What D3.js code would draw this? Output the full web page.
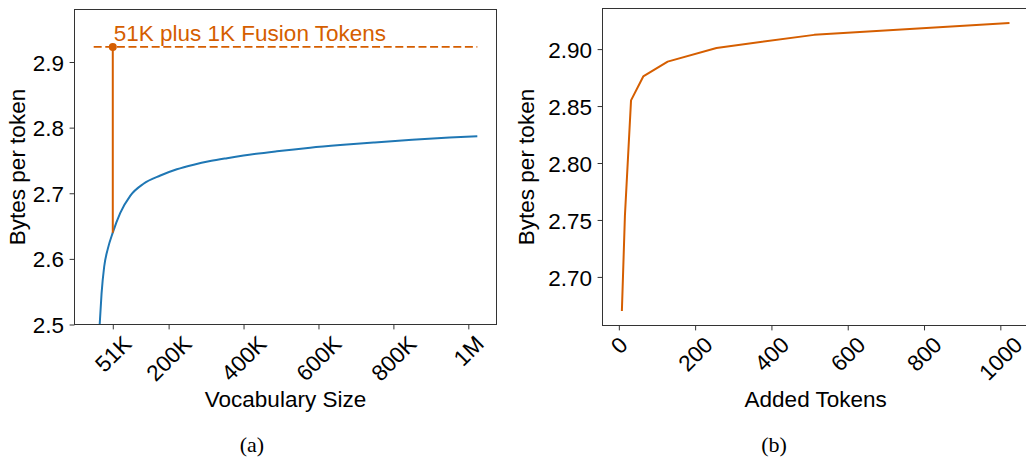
<!DOCTYPE html>
<html>
<head>
<meta charset="utf-8">
<script src="https://cdn.jsdelivr.net/npm/d3@7"></script>
<style>
  html, body { margin: 0; padding: 0; background: #fff; }
  svg { display: block; }
  text { font-family: "Liberation Sans", Arial, sans-serif; fill: #000; }
  .caption { font-family: "Liberation Serif", "Times New Roman", serif; }
</style>
</head>
<body>
<svg id="chart" width="1026" height="459"></svg>
<script>
// Panel (a): compression of the base tokenizer as the vocabulary grows
const vocabSizes = [16000, 21000, 28000, 38000, 51000, 71000, 98000, 133000, 178000, 222000,
                    267000, 311000, 356000, 400000, 489000, 578000, 658000, 750000, 850000,
                    950000, 1024000];
const vocabBytesPerToken = [2.500, 2.547, 2.588, 2.616, 2.640, 2.670, 2.6965, 2.7145, 2.727, 2.7365,
                            2.7435, 2.749, 2.7535, 2.7575, 2.764, 2.7695, 2.7735, 2.7775, 2.7815,
                            2.7848, 2.787];
const vocabTicks = [51000, 200000, 400000, 600000, 800000, 1000000];
const vocabTickLabels = ["51K", "200K", "400K", "600K", "800K", "1M"];
const vocabYTicks = [2.5, 2.6, 2.7, 2.8, 2.9];

// Base vocabulary that receives the fusion tokens
const baseVocab = 51000;
const baseBytesPerToken = 2.640;
const fusionLabel = "51K plus 1K Fusion Tokens";

// Panel (b): compression as fusion tokens are added to the 51K vocabulary
const addedTokens = [8, 16, 32, 64, 128, 256, 512, 1024];
const addedBytesPerToken = [2.670, 2.754, 2.855, 2.876, 2.889, 2.901, 2.9125, 2.923];
const addedXTicks = [0, 200, 400, 600, 800, 1000];
const addedYTicks = [2.70, 2.75, 2.80, 2.85, 2.90];

const fusedBytesPerToken = addedBytesPerToken[addedBytesPerToken.length - 1];

const BLUE = "#1f77b4";
const ORANGE = "#d55e00";
const FS = 22.5;
const SPINE = "#333";

const svg = d3.select("#chart");
svg.append("rect").attr("width", 1026).attr("height", 459).attr("fill", "#fff");

// Rotate bottom tick labels by 45° so their bounding box is centred under the tick
function rotateTickLabels(axisG) {
  axisG.selectAll(".tick text")
    .attr("x", 0).attr("y", 0).attr("dy", null)
    .attr("text-anchor", "end")
    .attr("dominant-baseline", "central")
    .attr("transform", function () {
      const w = this.getComputedTextLength();
      return `translate(${0.354 * w},${15.5}) rotate(-45)`;
    });
}

function styleAxis(g) {
  g.selectAll(".domain").remove();
  g.selectAll(".tick line").attr("stroke", SPINE).attr("stroke-width", 1);
  g.selectAll(".tick text").attr("font-size", FS).attr("fill", "#000")
    .attr("font-family", "Liberation Sans, Arial, sans-serif");
}

function frame(g, x0, y0, x1, y1) {
  g.append("rect")
    .attr("x", x0).attr("y", y0)
    .attr("width", x1 - x0).attr("height", y1 - y0)
    .attr("fill", "none").attr("stroke", SPINE).attr("stroke-width", 1);
}

/* ---------- Panel (a) ---------- */
{
  const L = 74.5, R = 496.5, T = 9.5, B = 324.5;
  const xMax = vocabSizes[vocabSizes.length - 1];
  const x = d3.scaleLinear().domain([-0.05 * xMax, 1.05 * xMax]).range([L, R]);
  const y = d3.scaleLinear().domain([2.5, 2.98]).range([B, T]);

  const g = svg.append("g");
  g.append("clipPath").attr("id", "clipA")
    .append("rect").attr("x", L).attr("y", T).attr("width", R - L).attr("height", B - T);

  const plot = g.append("g").attr("clip-path", "url(#clipA)");

  const line = d3.line().x((d, i) => x(vocabSizes[i])).y(d => y(d)).curve(d3.curveMonotoneX);
  plot.append("path")
    .datum(vocabBytesPerToken)
    .attr("d", line)
    .attr("fill", "none").attr("stroke", BLUE).attr("stroke-width", 2);

  // Dashed reference at the fused compression level
  plot.append("line")
    .attr("x1", x(0)).attr("x2", x(xMax))
    .attr("y1", y(fusedBytesPerToken)).attr("y2", y(fusedBytesPerToken))
    .attr("stroke", ORANGE).attr("stroke-width", 1.6)
    .attr("stroke-dasharray", "8,3.6");

  // Jump from the base vocabulary to the fused vocabulary
  plot.append("line")
    .attr("x1", x(baseVocab)).attr("x2", x(baseVocab))
    .attr("y1", y(baseBytesPerToken)).attr("y2", y(fusedBytesPerToken))
    .attr("stroke", ORANGE).attr("stroke-width", 2);
  plot.append("circle")
    .attr("cx", x(baseVocab)).attr("cy", y(fusedBytesPerToken)).attr("r", 4)
    .attr("fill", ORANGE);

  g.append("text")
    .attr("x", x(baseVocab) + 1).attr("y", y(fusedBytesPerToken) - 5.5)
    .attr("font-size", FS).style("fill", ORANGE)
    .text(fusionLabel);

  frame(g, L, T, R, B);

  const xAxis = g.append("g").attr("transform", `translate(0,${B})`)
    .call(d3.axisBottom(x).tickValues(vocabTicks)
      .tickFormat((d, i) => vocabTickLabels[i]).tickSize(4.9).tickPadding(5));
  styleAxis(xAxis);
  rotateTickLabels(xAxis);

  const yAxis = g.append("g").attr("transform", `translate(${L},0)`)
    .call(d3.axisLeft(y).tickValues(vocabYTicks).tickFormat(d3.format(".1f"))
      .tickSize(4.9).tickPadding(5.5));
  styleAxis(yAxis);
  yAxis.selectAll(".tick text").attr("dy", "0.36em");

  g.append("text")
    .attr("transform", `translate(25,${(T + B) / 2}) rotate(-90)`)
    .attr("text-anchor", "middle").attr("font-size", FS)
    .text("Bytes per token");
  g.append("text")
    .attr("x", (L + R) / 2).attr("y", 406.5)
    .attr("text-anchor", "middle").attr("font-size", FS)
    .text("Vocabulary Size");
  g.append("text").attr("class", "caption")
    .attr("x", 252).attr("y", 452)
    .attr("text-anchor", "middle").attr("font-size", 22)
    .text("(a)");
}

/* ---------- Panel (b) ---------- */
{
  const L = 602.5, T = 8.5, B = 325.5;
  const xMin = addedTokens[0], xMax = addedTokens[addedTokens.length - 1];
  const xPad = 0.05 * (xMax - xMin);
  const pxPerToken = 0.3815;
  const R = L + (xMax - xMin + 2 * xPad) * pxPerToken;
  const x = d3.scaleLinear().domain([xMin - xPad, xMax + xPad]).range([L, R]);

  const yMin = d3.min(addedBytesPerToken), yMax = d3.max(addedBytesPerToken);
  const yPad = 0.05 * (yMax - yMin);
  const y = d3.scaleLinear().domain([yMin - yPad, yMax + yPad]).range([B, T]);

  const g = svg.append("g");

  const line = d3.line().x((d, i) => x(addedTokens[i])).y(d => y(d));
  g.append("path")
    .datum(addedBytesPerToken)
    .attr("d", line)
    .attr("fill", "none").attr("stroke", ORANGE).attr("stroke-width", 2)
    .attr("stroke-linejoin", "round");

  frame(g, L, T, R, B);

  const xAxis = g.append("g").attr("transform", `translate(0,${B})`)
    .call(d3.axisBottom(x).tickValues(addedXTicks).tickFormat(d3.format("d"))
      .tickSize(4.9).tickPadding(5));
  styleAxis(xAxis);
  rotateTickLabels(xAxis);

  const yAxis = g.append("g").attr("transform", `translate(${L},0)`)
    .call(d3.axisLeft(y).tickValues(addedYTicks).tickFormat(d3.format(".2f"))
      .tickSize(4.9).tickPadding(5.5));
  styleAxis(yAxis);
  yAxis.selectAll(".tick text").attr("dy", "0.36em");

  g.append("text")
    .attr("transform", `translate(533.5,${(T + B) / 2}) rotate(-90)`)
    .attr("text-anchor", "middle").attr("font-size", FS)
    .text("Bytes per token");
  g.append("text")
    .attr("x", (L + R) / 2).attr("y", 406.5)
    .attr("text-anchor", "middle").attr("font-size", FS)
    .text("Added Tokens");
  g.append("text").attr("class", "caption")
    .attr("x", 774).attr("y", 452)
    .attr("text-anchor", "middle").attr("font-size", 22)
    .text("(b)");
}
</script>
</body>
</html>
